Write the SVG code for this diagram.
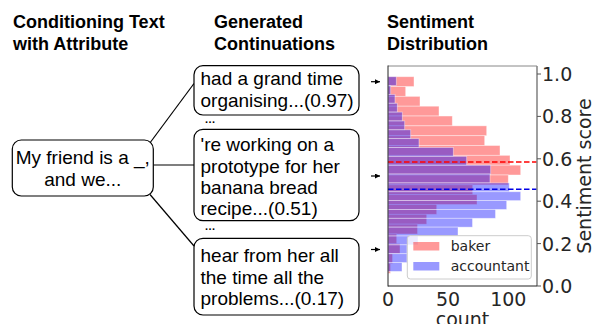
<svg xmlns="http://www.w3.org/2000/svg" width="592" height="324" viewBox="0 0 592 324">
<style>
.hdr{font-family:"Liberation Sans",Arial,sans-serif;font-weight:bold;font-size:18px;fill:#000}
.box{fill:#fff;stroke:#000;stroke-width:1.2}
.bt{font-family:"Liberation Sans",Arial,sans-serif;font-size:19px;fill:#000}
.dots{font-family:"Liberation Sans",Arial,sans-serif;font-weight:bold;font-size:11px;fill:#000;letter-spacing:0.4px}
.conn{stroke:#000;stroke-width:1.2;fill:none}
.pk rect{fill:#ff0000;fill-opacity:0.4;stroke:#fff;stroke-opacity:0.5;stroke-width:0.8}
.bl rect{fill:#0000ff;fill-opacity:0.4;stroke:#fff;stroke-opacity:0.5;stroke-width:0.8}
.tk{font-family:"DejaVu Sans",sans-serif;font-size:19px;fill:#262626}
.lg{font-family:"DejaVu Sans",sans-serif;font-size:14px;fill:#262626}
</style>
<defs>
<marker id="ah" viewBox="0 0 10 10" refX="10" refY="5" markerWidth="5" markerHeight="5" markerUnits="userSpaceOnUse" orient="auto">
<path d="M0,0 L10,5 L0,10 z" fill="#000"/>
</marker>
</defs>
<rect width="592" height="324" fill="#fff"/>

<g id="headers">
<text class="hdr" x="13" y="28">Conditioning Text</text>
<text class="hdr" x="13" y="50">with Attribute</text>
<text class="hdr" x="214" y="28">Generated</text>
<text class="hdr" x="214" y="50">Continuations</text>
<text class="hdr" x="387" y="28">Sentiment</text>
<text class="hdr" x="387" y="50">Distribution</text>
</g>

<g id="connectors">
<line class="conn" x1="149.5" y1="143.5" x2="194" y2="83.5"/>
<line class="conn" x1="153.3" y1="165" x2="194" y2="165"/>
<line class="conn" x1="150" y1="194.5" x2="194" y2="246"/>
<line class="conn" x1="371" y1="81.7" x2="380" y2="81.7" marker-end="url(#ah)"/>
<line class="conn" x1="371" y1="176" x2="380" y2="176" marker-end="url(#ah)"/>
<line class="conn" x1="371" y1="249.5" x2="380" y2="249.5" marker-end="url(#ah)"/>
</g>

<g id="node-prompt">
<rect class="box" x="12.3" y="140" width="141" height="56" rx="9"/>
<text class="bt" x="82.8" y="164" text-anchor="middle">My friend is a _,</text>
<text class="bt" x="82.8" y="186" text-anchor="middle">and we...</text>
</g>

<g id="node-cont1">
<rect class="box" x="194" y="65.7" width="165" height="49.3" rx="9"/>
<text class="bt" x="200.5" y="85">had a grand time</text>
<text class="bt" x="200.5" y="106.5">organising...(0.97)</text>
</g>
<text class="dots" x="205" y="123">...</text>

<g id="node-cont2">
<rect class="box" x="194" y="129.3" width="165" height="91.4" rx="9"/>
<text class="bt" x="200.5" y="151">'re working on a</text>
<text class="bt" x="200.5" y="172.5">prototype for her</text>
<text class="bt" x="200.5" y="194">banana bread</text>
<text class="bt" x="200.5" y="215.3">recipe...(0.51)</text>
</g>
<text class="dots" x="205" y="229.5">...</text>

<g id="node-cont3">
<rect class="box" x="194" y="238.3" width="165" height="76.7" rx="9"/>
<text class="bt" x="200.5" y="262">hear from her all</text>
<text class="bt" x="200.5" y="283.7">the time all the</text>
<text class="bt" x="200.5" y="305.4">problems...(0.17)</text>
</g>

<g id="chart">
<g class="pk">
<rect x="388" y="76.7" width="26" height="9.83"/>
<rect x="388" y="86.53" width="17.7" height="9.83"/>
<rect x="388" y="96.36" width="32" height="9.83"/>
<rect x="388" y="106.19" width="51" height="9.83"/>
<rect x="388" y="116.02" width="64.3" height="9.83"/>
<rect x="388" y="125.85" width="98.7" height="9.83"/>
<rect x="388" y="135.68" width="96.7" height="9.83"/>
<rect x="388" y="145.51" width="112" height="9.83"/>
<rect x="388" y="155.34" width="122" height="9.83"/>
<rect x="388" y="165.17" width="132.7" height="9.83"/>
<rect x="388" y="175.0" width="120.3" height="9.83"/>
<rect x="388" y="184.83" width="84.7" height="9.83"/>
<rect x="388" y="194.66" width="89" height="9.83"/>
<rect x="388" y="204.49" width="48.7" height="9.83"/>
<rect x="388" y="214.32" width="38.7" height="9.83"/>
<rect x="388" y="224.15" width="29.5" height="9.83"/>
<rect x="388" y="233.98" width="8.7" height="9.83"/>
<rect x="388" y="243.81" width="12" height="9.83"/>
<rect x="388" y="253.64" width="4.5" height="9.83"/>
<rect x="388" y="263.47" width="2.5" height="9.83"/>
</g>
<g class="bl">
<rect x="388" y="76.7" width="8.3" height="8.85"/>
<rect x="388" y="85.55" width="2.7" height="8.85"/>
<rect x="388" y="94.4" width="7" height="8.85"/>
<rect x="388" y="103.25" width="9.3" height="8.85"/>
<rect x="388" y="112.1" width="14.3" height="8.85"/>
<rect x="388" y="120.95" width="16.7" height="8.85"/>
<rect x="388" y="129.8" width="22.7" height="8.85"/>
<rect x="388" y="138.65" width="31" height="8.85"/>
<rect x="388" y="147.5" width="65.3" height="8.85"/>
<rect x="388" y="156.35" width="78.7" height="8.85"/>
<rect x="388" y="165.2" width="102.7" height="8.85"/>
<rect x="388" y="174.05" width="102" height="8.85"/>
<rect x="388" y="182.9" width="121.3" height="8.85"/>
<rect x="388" y="191.75" width="132.7" height="8.85"/>
<rect x="388" y="200.6" width="118.7" height="8.85"/>
<rect x="388" y="209.45" width="107.5" height="8.85"/>
<rect x="388" y="218.3" width="84.5" height="8.85"/>
<rect x="388" y="227.15" width="70" height="8.85"/>
<rect x="388" y="236.0" width="30" height="8.85"/>
<rect x="388" y="244.85" width="19" height="8.85"/>
<rect x="388" y="253.7" width="19" height="8.85"/>
<rect x="388" y="262.55" width="14" height="8.85"/>
</g>
<line x1="388" y1="162" x2="537" y2="162" stroke="#ff0000" stroke-width="1.5" stroke-dasharray="5.5 2.5"/>
<line x1="388" y1="189.3" x2="537" y2="189.3" stroke="#0000e6" stroke-width="1.5" stroke-dasharray="5.5 2.5"/>

<g id="legend">
<rect x="407.3" y="235.7" width="124" height="43.3" rx="3" fill="#fff" fill-opacity="0.8" stroke="#cccccc" stroke-width="1"/>
<rect x="413.3" y="242" width="26" height="8.5" fill="#ff0000" fill-opacity="0.4"/>
<rect x="413.3" y="262" width="26" height="8.5" fill="#0000ff" fill-opacity="0.4"/>
<text class="lg" x="450.7" y="251">baker</text>
<text class="lg" x="450.7" y="271">accountant</text>
</g>

<line x1="388" y1="66" x2="537" y2="66" stroke="#888" stroke-width="1"/>
<line x1="537" y1="66" x2="537" y2="286" stroke="#888" stroke-width="1.6"/>
<line x1="388" y1="65.5" x2="388" y2="286.5" stroke="#222" stroke-width="1"/>
<line x1="388" y1="286" x2="537" y2="286" stroke="#222" stroke-width="1"/>

<g stroke="#555" stroke-width="1">
<line x1="537" y1="74" x2="541" y2="74"/>
<line x1="537" y1="116.4" x2="541" y2="116.4"/>
<line x1="537" y1="158.8" x2="541" y2="158.8"/>
<line x1="537" y1="201.2" x2="541" y2="201.2"/>
<line x1="537" y1="243.6" x2="541" y2="243.6"/>
<line x1="537" y1="286" x2="541" y2="286"/>
</g>
<text class="tk" x="542" y="80.9">1.0</text>
<text class="tk" x="542" y="123.3">0.8</text>
<text class="tk" x="542" y="165.7">0.6</text>
<text class="tk" x="542" y="208.1">0.4</text>
<text class="tk" x="542" y="250.5">0.2</text>
<text class="tk" x="542" y="292.9">0.0</text>
<text class="tk" x="388" y="305.5" text-anchor="middle">0</text>
<text class="tk" x="448" y="305.5" text-anchor="middle">50</text>
<text class="tk" x="508.3" y="305.5" text-anchor="middle">100</text>
<text class="tk" x="462.5" y="326" text-anchor="middle">count</text>
<text class="tk" transform="translate(590.5,176) rotate(-90)" text-anchor="middle">Sentiment score</text>
</g>
</svg>
